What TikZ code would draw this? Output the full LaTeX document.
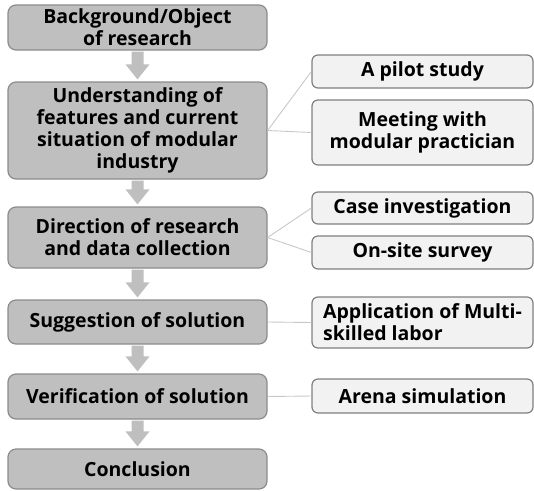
\documentclass[tikz,border=0pt]{standalone}
\usepackage{fontspec}
\setmainfont{Open Sans}
\usetikzlibrary{calc}
\definecolor{mainfill}{HTML}{BFBFBF}
\definecolor{mainline}{HTML}{8C8C8C}
\definecolor{subfill}{HTML}{F2F2F2}
\definecolor{subline}{HTML}{7F7F7F}
\definecolor{linkline}{HTML}{C8C8C8}
\definecolor{arrowfill}{HTML}{BFBFBF}
\tikzset{
  mainbox/.style={draw=mainline, fill=mainfill, line width=1.2pt, rounded corners=8pt,
    minimum width=259pt, align=center, inner sep=0pt,
    font=\fontsize{19.5}{22}\selectfont\bfseries},
  subbox/.style={draw=subline, fill=subfill, line width=1.2pt, rounded corners=6pt,
    minimum width=221pt, align=center, inner sep=0pt,
    font=\fontsize{19.5}{22}\selectfont\bfseries},
  link/.style={draw=linkline, line width=0.9pt},
}
% block arrow from the bottom of one step to the top of the next
\newcommand\steparrow[2]{%
  \fill[arrowfill] ($(#1.south)+(-6,-1)$) -- ($(#2.north)+(-6,17)$) -- ($(#2.north)+(-12,17)$)
    -- ($(#2.north)+(0,2)$) -- ($(#2.north)+(12,17)$) -- ($(#2.north)+(6,17)$)
    -- ($(#1.south)+(6,-1)$) -- cycle;}
\begin{document}
\begin{tikzpicture}[x=1pt,y=1pt]
\useasboundingbox (0,0) rectangle (534,-490);
% main steps
\node[mainbox, minimum height=45pt] (b1) at (137.5,-27.5) {Background/Object\\of research};
\node[mainbox, minimum height=97pt] (b2) at (137.5,-130.5) {Understanding of\\features and current\\situation of modular\\industry};
\node[mainbox, minimum height=61pt] (b3) at (137.5,-237.5) {Direction of research\\and data collection};
\node[mainbox, minimum height=44pt] (b4) at (137.5,-322) {Suggestion of solution};
\node[mainbox, minimum height=45pt] (b5) at (137.5,-396.5) {Verification of solution};
\node[mainbox, minimum height=40pt] (b6) at (137.5,-469) {Conclusion};
% supporting activities
\node[subbox, minimum height=33pt] (r1) at (422.5,-71.5) {A pilot study};
\node[subbox, minimum height=65pt] (r2) at (422.5,-132.5) {Meeting with\\modular practician};
\node[subbox, minimum height=32pt] (r3) at (422.5,-208) {Case investigation};
\node[subbox, minimum height=33pt] (r4) at (422.5,-252.5) {On-site survey};
\node[subbox, minimum height=51pt, align=left] (r5) at (422.5,-322.5) {Application of Multi-\\skilled labor};
\node[subbox, minimum height=34pt] (r6) at (422.5,-396) {Arena simulation};
% flow arrows
\steparrow{b1}{b2}
\steparrow{b2}{b3}
\steparrow{b3}{b4}
\steparrow{b4}{b5}
\steparrow{b5}{b6}
% links to activities
\draw[link] (b2.east) -- (r1.west);
\draw[link] (b2.east) -- (r2.west);
\draw[link] (b3.east) -- (r3.west);
\draw[link] (b3.east) -- (r4.west);
\draw[link] (b4.east) -- (r5.west);
\draw[link] (b5.east) -- (r6.west);
\end{tikzpicture}
\end{document}
